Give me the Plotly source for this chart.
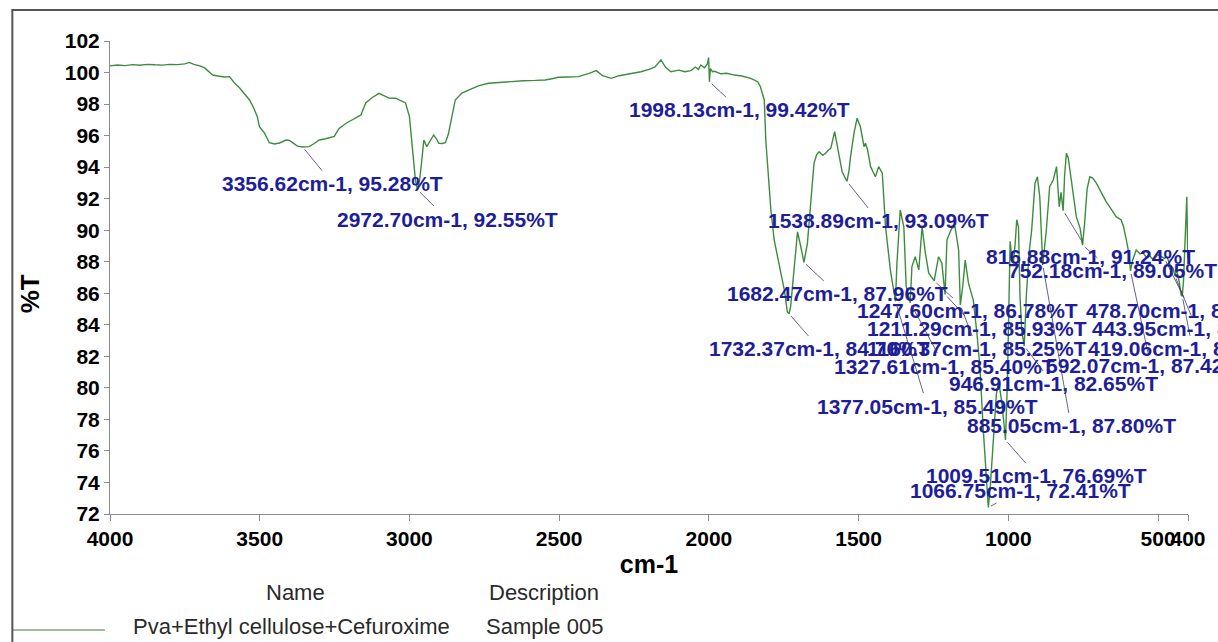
import plotly.graph_objects as go

# ---------------- data ----------------
wavenumber = [
    4000, 3975, 3950, 3925, 3900, 3875, 3850, 3825, 3800, 3775, 3750, 3735, 3720, 3700,
    3684, 3670, 3657, 3640, 3617, 3601, 3585, 3567, 3545, 3534, 3520, 3508, 3501, 3484,
    3468, 3450, 3434, 3412, 3401, 3385, 3374, 3356.62, 3335, 3318, 3301, 3280, 3251, 3235,
    3210, 3192, 3162, 3146, 3125, 3102, 3085, 3068, 3046, 3025, 3013, 3000, 2992, 2980,
    2972.70, 2966, 2960, 2952, 2942, 2930, 2919, 2910, 2902, 2890, 2880, 2870, 2863, 2847,
    2825, 2802, 2770, 2736, 2700, 2659, 2620, 2580, 2547, 2520, 2503, 2470, 2436, 2400,
    2376, 2355, 2326, 2300, 2270, 2250, 2227, 2200, 2180, 2160, 2145, 2127, 2100, 2080,
    2060, 2045, 2035, 2027, 2015, 2005, 2001, 1998.13, 1995, 1988, 1981, 1960, 1940, 1915,
    1890, 1860, 1845, 1837, 1828, 1821, 1815, 1810, 1804, 1793, 1782, 1770, 1760, 1748,
    1738, 1732.37, 1727, 1715, 1704, 1693, 1682.47, 1671, 1660, 1649, 1640, 1632, 1620,
    1610, 1600, 1593, 1580, 1573, 1566, 1555, 1538.89, 1532, 1527, 1515, 1505, 1494, 1482,
    1477, 1470, 1460, 1444, 1433, 1421, 1410, 1394, 1377.05, 1372, 1361, 1349, 1341,
    1327.61, 1322, 1311, 1299, 1288, 1277, 1266, 1247.60, 1233, 1222, 1211.29, 1205, 1189,
    1178, 1166, 1160.37, 1152, 1144, 1133, 1117, 1105, 1095, 1083, 1072, 1066.75, 1060,
    1055, 1048, 1040, 1032, 1022, 1015, 1009.51, 1003, 998, 994, 988, 983, 977, 972, 966,
    961, 955, 946.91, 940, 931, 922, 911, 903, 895, 885.05, 878, 873, 862, 850, 839, 830,
    824, 816.88, 812, 806, 800, 789, 773, 760, 752.18, 745, 737, 728, 718, 706, 695, 684,
    673, 662, 650, 640, 623, 615, 606, 598, 592.07, 585, 573, 560, 551, 540, 529, 515, 500,
    490, 478.70, 470, 460, 450, 443.95, 438, 430, 423, 419.06, 415, 412, 408, 404, 401, 400,
]
transmittance = [
    100.42, 100.48, 100.44, 100.50, 100.46, 100.52, 100.49, 100.47, 100.52, 100.50, 100.55, 100.64, 100.52, 100.42,
    100.29, 100.05, 99.84, 99.78, 99.72, 99.74, 99.35, 99.02, 98.47, 98.26, 97.75, 97.20, 96.56, 96.16,
    95.55, 95.47, 95.53, 95.72, 95.70, 95.45, 95.33, 95.28, 95.30, 95.50, 95.72, 95.80, 95.95, 96.45,
    96.80, 96.99, 97.31, 98.07, 98.40, 98.68, 98.55, 98.38, 98.37, 98.20, 98.07, 97.20, 95.72, 93.18,
    92.55, 93.20, 94.20, 95.72, 95.30, 95.70, 96.04, 95.80, 95.51, 95.50, 95.55, 96.10, 96.80, 98.26,
    98.70, 98.90, 99.15, 99.32, 99.38, 99.42, 99.48, 99.50, 99.53, 99.62, 99.70, 99.72, 99.74, 99.95,
    100.12, 99.80, 99.63, 99.80, 99.90, 99.95, 100.05, 100.20, 100.35, 100.80, 100.35, 100.05, 100.15, 100.05,
    100.12, 100.35, 100.20, 100.48, 100.30, 100.55, 100.95, 99.42, 100.25, 100.05, 100.08, 99.92, 99.95, 99.84,
    99.78, 99.63, 99.52, 99.42, 99.10, 98.68, 98.26, 95.72, 94.03, 91.28, 89.38, 88.30, 87.29, 86.20,
    84.83, 84.70, 85.15, 87.69, 89.90, 88.95, 87.96, 89.17, 91.92, 94.24, 94.80, 94.98, 94.75,
    94.88, 95.10, 95.19, 96.25, 95.50, 94.66, 93.70, 93.09, 93.80, 94.66, 96.20, 97.10, 96.56, 95.30,
    95.51, 95.10, 94.03, 93.39, 94.03, 93.61, 90.22, 87.48, 85.49, 87.90, 91.28, 90.22, 86.42,
    85.40, 87.69, 88.32, 87.48, 90.22, 88.55, 87.29, 86.78, 88.32, 87.90, 85.93, 89.38, 90.12,
    90.22, 88.74, 85.25, 86.50, 88.11, 86.63, 85.57, 83.48, 81.34, 77.14, 73.52, 72.41, 73.80,
    75.23, 77.50, 79.60, 80.40, 79.10, 77.80, 76.69, 80.50, 86.00, 89.30, 88.20, 87.92, 89.20, 90.66, 90.20,
    85.80, 83.60, 82.65, 85.80, 88.50, 90.01, 92.97, 93.39, 92.12, 87.80, 89.20, 90.01, 92.76, 93.18, 94.03, 91.49,
    92.40, 91.24, 93.50, 94.88, 94.60, 93.18, 90.86, 90.10, 89.05, 90.50, 92.60, 93.39, 93.30, 92.99, 92.60, 92.12,
    91.80, 91.49, 91.10, 90.86, 90.65, 90.20, 89.38, 88.60, 87.42, 88.10, 88.74, 88.50, 88.60, 88.30, 88.40, 88.10, 88.45,
    88.32, 88.21, 88.30, 87.80, 87.60, 87.12, 87.48, 86.80, 85.90, 85.81, 86.80, 88.00, 90.00, 92.12, 88.50, 88.20,
]

peak_wn = [3356.62, 2972.70, 1998.13, 1538.89, 1682.47, 1732.37, 1247.60, 1211.29,
           1160.37, 1327.61, 592.07, 419.06, 443.95, 478.70, 816.88, 752.18,
           946.91, 1377.05, 885.05, 1009.51, 1066.75]
peak_t = [95.28, 92.55, 99.42, 93.09, 87.96, 84.70, 86.78, 85.93,
          85.25, 85.40, 87.42, 85.81, 87.12, 88.21, 91.24, 89.05,
          82.65, 85.49, 87.80, 76.69, 72.41]

x_ticks = [4000, 3500, 3000, 2500, 2000, 1500, 1000, 500, 400]
y_ticks = list(range(72, 103, 2))

sample_name = "Pva+Ethyl cellulose+Cefuroxime"
sample_desc = "Sample 005"

# label offsets in pixels (layout only)
label_dx = [30, 29.5, 30.3, 31.6, 33.7, 30.7, 33, 32.1, 16.8, 34.1, 20.2, 10.2, 21.7, 26.1,
            27.8, 30.3, 28.9, 31.9, 28.3, 31.5, 31.7]
label_dy = [36.6, 29, 28.3, 39.5, 31.6, 35.2, 30, 34.6, 43.9, 63.3, 94.8, 52.7, 53.1, 52.4,
            45.4, 25.8, 37.9, 104.7, 161.1, 35.9, -17.5]

FONT = "Liberation Sans, Arial, sans-serif"
GREEN = "#3d8c3d"
NAVY = "#1e1e98"

fig = go.Figure()
fig.add_trace(go.Scatter(
    x=wavenumber, y=transmittance, mode="lines", name=sample_name,
    line=dict(color=GREEN, width=1.4), showlegend=False,
))

annotations = []
for wn, t, dx, dy in zip(peak_wn, peak_t, label_dx, label_dy):
    annotations.append(dict(
        x=wn, y=t, xref="x", yref="y",
        text=f"{wn:.2f}cm-1, {t:.2f}%T",
        showarrow=True, arrowhead=0, arrowwidth=0.8, arrowcolor="#3a3a70",
        standoff=3, ax=dx, ay=dy,
        font=dict(family=FONT, size=21, color=NAVY, weight="bold"),
    ))

# y title
annotations.append(dict(
    x=-0.074, y=0.465, xref="paper", yref="paper", text="%T", textangle=-90,
    xanchor="center", yanchor="middle",
    showarrow=False, font=dict(family=FONT, size=26, color="black", weight="bold"),
))
# legend table
table_font = dict(family=FONT, size=22, color="#2a2a2a")
annotations += [
    dict(x=0.1719, y=-0.165, xref="paper", yref="paper", text="Name",
         xanchor="center", yanchor="middle", showarrow=False, font=table_font),
    dict(x=0.403, y=-0.165, xref="paper", yref="paper", text="Description",
         xanchor="center", yanchor="middle", showarrow=False, font=table_font),
    dict(x=0.0194, y=-0.2389, xref="paper", yref="paper", text=sample_name,
         xanchor="left", yanchor="middle", showarrow=False, font=table_font),
    dict(x=0.3466, y=-0.2389, xref="paper", yref="paper", text=sample_desc,
         xanchor="left", yanchor="middle", showarrow=False, font=table_font),
]

shapes = [
    dict(type="line", xref="paper", yref="paper", x0=-0.0906, x1=-0.0046,
         y0=-0.2452, y1=-0.2452, line=dict(color="#7fa57f", width=1.5)),
    dict(type="rect", xref="paper", yref="paper", x0=-0.0906, x1=1.04,
         y0=-0.31, y1=1.0655, line=dict(color="#555555", width=2)),
]

axis_common = dict(
    showline=True, linecolor="#8a8a8a", linewidth=1, showgrid=False, zeroline=False,
    ticks="outside", tickcolor="#8a8a8a", tickwidth=1,
    tickfont=dict(family=FONT, size=21, color="black", weight="bold"),
)

fig.update_layout(
    width=1218, height=642,
    margin=dict(l=110, r=26, t=41, b=128),
    paper_bgcolor="white", plot_bgcolor="white",
    xaxis=dict(range=[4000, 400], tickvals=x_ticks, ticklen=6, tickangle=0,
               title=dict(text="cm-1", standoff=6,
                          font=dict(family=FONT, size=25, color="black", weight="bold")),
               **axis_common),
    yaxis=dict(range=[72, 102], tickvals=y_ticks, ticklen=5, **axis_common),
    annotations=annotations,
    shapes=shapes,
    font=dict(family=FONT),
)

fig.write_html("out.html")
